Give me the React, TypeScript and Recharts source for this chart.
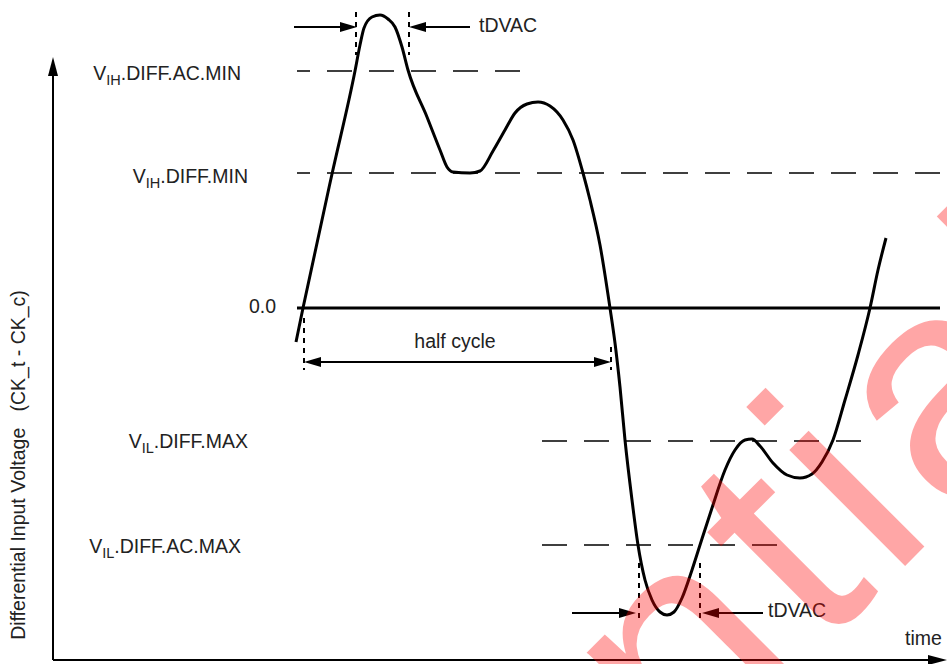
import React from "react";
import { LineChart, Line, XAxis, YAxis, ReferenceLine, ReferenceDot } from "recharts";

const W = 947;
const H = 664;
const FONT = "'Liberation Sans', Arial, Helvetica, sans-serif";

// differential clock waveform (time, voltage)
const time = [
  243, 250, 279, 302, 307, 311, 319, 327, 335, 342, 349, 355, 374, 387, 394, 400, 417, 427,
  440, 452, 462, 474, 485, 497, 510, 520, 530, 537, 547, 557, 562, 567, 572, 579, 585, 592,
  599, 607, 614, 621, 629, 639, 647, 659, 672, 682, 692, 699, 707, 720, 734, 747, 759, 769,
  780, 792, 805, 817, 825, 833,
];
const voltage = [
  -34, 0, 134, 237, 263, 280, 291, 293, 289, 281, 261, 238, 191, 158, 141, 136, 135, 137,
  157, 178, 195, 204, 206, 202, 188, 168, 135, 108, 63, 0, -35, -79, -132, -192, -237, -272,
  -292, -304, -307, -304, -290, -262, -237, -200, -162, -142, -132, -131, -138, -155, -167, -170, -166, -154,
  -132, -92, -47, 0, 38, 70,
];

// threshold levels
const levelLabels = ["V_IH.DIFF.AC.MIN", "V_IH.DIFF.MIN", "0.0", "V_IL.DIFF.MAX", "V_IL.DIFF.AC.MAX"];
const levelValues = [237, 135, 0, -133, -237];
const levelFrom = [244, 244, 244, 489, 489];
const levelTo = [471, 894, 887, 811, 725];

const wave = time.map((t, i) => ({ t, v: voltage[i] }));

// label placement (right edge in px, baseline shift)
const labelRight = [241, 248, 276, 248, 241];
const labelDy = [9, 10, 5, 7, 8];

const LevelTick = (props: any) => {
  const idx = levelValues.indexOf(props.payload.value);
  if (idx < 0) return null;
  const label = levelLabels[idx];
  const y = props.y + labelDy[idx];
  if (!label.startsWith("V_")) {
    return (
      <text x={labelRight[idx]} y={y} textAnchor="end" fontFamily={FONT} fontSize={19.5} fill="#222">
        {label}
      </text>
    );
  }
  const body = label.slice(2);
  const dot = body.indexOf(".");
  const sub = body.slice(0, dot);
  const rest = body.slice(dot);
  return (
    <text x={labelRight[idx]} y={y} textAnchor="end" fontFamily={FONT} fontSize={19.5} fill="#222">
      <tspan>V</tspan>
      <tspan fontSize={14.5} dy={5}>{sub}</tspan>
      <tspan dy={-5}>{rest}</tspan>
    </text>
  );
};

type Head = "start" | "end" | "both" | "none";

const arrowShape = (head: Head, width: number, len = 17, half = 5) => (p: any) => {
  const { x1, y1, x2, y2 } = p;
  const dx = x2 - x1;
  const dy = y2 - y1;
  const d = Math.sqrt(dx * dx + dy * dy) || 1;
  const ux = dx / d;
  const uy = dy / d;
  const tri = (tx: number, ty: number, sx: number, sy: number) => {
    const bx = tx - sx * len;
    const by = ty - sy * len;
    return `${tx},${ty} ${bx - sy * half},${by + sx * half} ${bx + sy * half},${by - sx * half}`;
  };
  const hasStart = head === "start" || head === "both";
  const hasEnd = head === "end" || head === "both";
  const ax = hasStart ? x1 + ux * (len - 2) : x1;
  const ay = hasStart ? y1 + uy * (len - 2) : y1;
  const bx = hasEnd ? x2 - ux * (len - 2) : x2;
  const by = hasEnd ? y2 - uy * (len - 2) : y2;
  return (
    <g>
      <line x1={ax} y1={ay} x2={bx} y2={by} stroke="#000" strokeWidth={width} />
      {hasEnd && <polygon points={tri(x2, y2, ux, uy)} fill="#000" />}
      {hasStart && <polygon points={tri(x1, y1, -ux, -uy)} fill="#000" />}
    </g>
  );
};

const textShape = (text: string, anchor: "start" | "middle" | "end" = "start") => (p: any) => (
  <text x={p.cx} y={p.cy} textAnchor={anchor} fontFamily={FONT} fontSize={19.5} fill="#222">
    {text}
  </text>
);

const yTitleShape = (p: any) => (
  <text
    x={p.cx}
    y={p.cy}
    transform={`rotate(-90, ${p.cx}, ${p.cy})`}
    textAnchor="middle"
    fontFamily={FONT}
    fontSize={19.5}
    fill="#222"
    style={{ whiteSpace: "pre" }}
  >
    {"Differential Input Voltage   (CK_t - CK_c)"}
  </text>
);

const seg = (x1: number, y1: number, x2: number, y2: number) => [
  { x: x1, y: y1 },
  { x: x2, y: y2 },
];

export default function App() {
  return (
    <div style={{ position: "relative", width: W, height: H, background: "#fff", overflow: "hidden" }}>
      <style>{"body{margin:0}"}</style>
      <LineChart width={W} height={H} data={wave} margin={{ top: 0, right: 0, left: 0, bottom: 4 }}>
        <XAxis dataKey="t" type="number" domain={[0, 894]} allowDataOverflow hide />
        <YAxis
          type="number"
          domain={[-352, 308]}
          allowDataOverflow
          ticks={levelValues}
          interval={0}
          width={53}
          axisLine={false}
          tickLine={false}
          tick={<LevelTick />}
        />

        {/* threshold lines */}
        {levelValues.map((v, i) =>
          v === 0 ? (
            <ReferenceLine key={i} segment={seg(levelFrom[i], v, levelTo[i], v)} stroke="#000" strokeWidth={3} ifOverflow="visible" />
          ) : (
            <ReferenceLine
              key={i}
              segment={seg(levelFrom[i], v, levelTo[i], v)}
              stroke="#000"
              strokeWidth={1.5}
              strokeDasharray="25 17"
              strokeDashoffset={v > 0 ? 12 : 0}
              ifOverflow="visible"
            />
          )
        )}

        {/* axes with arrows */}
        <ReferenceLine segment={seg(0, -352, 0, 251)} ifOverflow="visible" shape={arrowShape("end", 2, 19, 5)} />
        <ReferenceLine segment={seg(0, -352, 894, -352)} ifOverflow="visible" shape={arrowShape("end", 2, 19, 5)} />

        {/* dotted guides */}
        <ReferenceLine segment={seg(303, 296, 303, 253)} stroke="#000" strokeWidth={2} strokeDasharray="5 5" ifOverflow="visible" />
        <ReferenceLine segment={seg(356, 296, 356, 253)} stroke="#000" strokeWidth={2} strokeDasharray="5 5" ifOverflow="visible" />
        <ReferenceLine segment={seg(586, -255, 586, -315)} stroke="#000" strokeWidth={2} strokeDasharray="5 5" ifOverflow="visible" />
        <ReferenceLine segment={seg(647, -255, 647, -315)} stroke="#000" strokeWidth={2} strokeDasharray="5 5" ifOverflow="visible" />
        <ReferenceLine segment={seg(251, -10, 251, -62)} stroke="#000" strokeWidth={2} strokeDasharray="5 5" ifOverflow="visible" />
        <ReferenceLine segment={seg(558, -39, 558, -62)} stroke="#000" strokeWidth={2} strokeDasharray="5 5" ifOverflow="visible" />

        {/* timing arrows */}
        <ReferenceLine segment={seg(241, 281, 304, 281)} ifOverflow="visible" shape={arrowShape("end", 1.8)} />
        <ReferenceLine segment={seg(417, 281, 356, 281)} ifOverflow="visible" shape={arrowShape("end", 1.8)} />
        <ReferenceLine segment={seg(519, -305, 583, -305)} ifOverflow="visible" shape={arrowShape("end", 1.8)} />
        <ReferenceLine segment={seg(710, -305, 649, -305)} ifOverflow="visible" shape={arrowShape("end", 1.8)} />
        <ReferenceLine segment={seg(251, -54, 558, -54)} ifOverflow="visible" shape={arrowShape("both", 1.8)} />

        {/* texts */}
        <ReferenceDot x={426} y={276} ifOverflow="visible" shape={textShape("tDVAC")} />
        <ReferenceDot x={715} y={-309} ifOverflow="visible" shape={textShape("tDVAC")} />
        <ReferenceDot x={402} y={-40} ifOverflow="visible" shape={textShape("half cycle", "middle")} />
        <ReferenceDot x={852} y={-337} ifOverflow="visible" shape={textShape("time")} />
        <ReferenceDot x={-28} y={-157} ifOverflow="visible" shape={yTitleShape} />

        <Line
          type="monotone"
          dataKey="v"
          stroke="#000"
          strokeWidth={3}
          dot={false}
          activeDot={false}
          isAnimationActive={false}
        />
      </LineChart>
      <svg width={W} height={H} style={{ position: "absolute", left: 0, top: 0, pointerEvents: "none" }}>
        <text
          x={-137}
          y={1608}
          transform="rotate(-45, -137, 1608)"
          fontFamily={FONT}
          fontSize={310}
          letterSpacing={14}
          fill="#ff0000"
          fillOpacity={0.35}
        >
          Confidential
        </text>
      </svg>
    </div>
  );
}
